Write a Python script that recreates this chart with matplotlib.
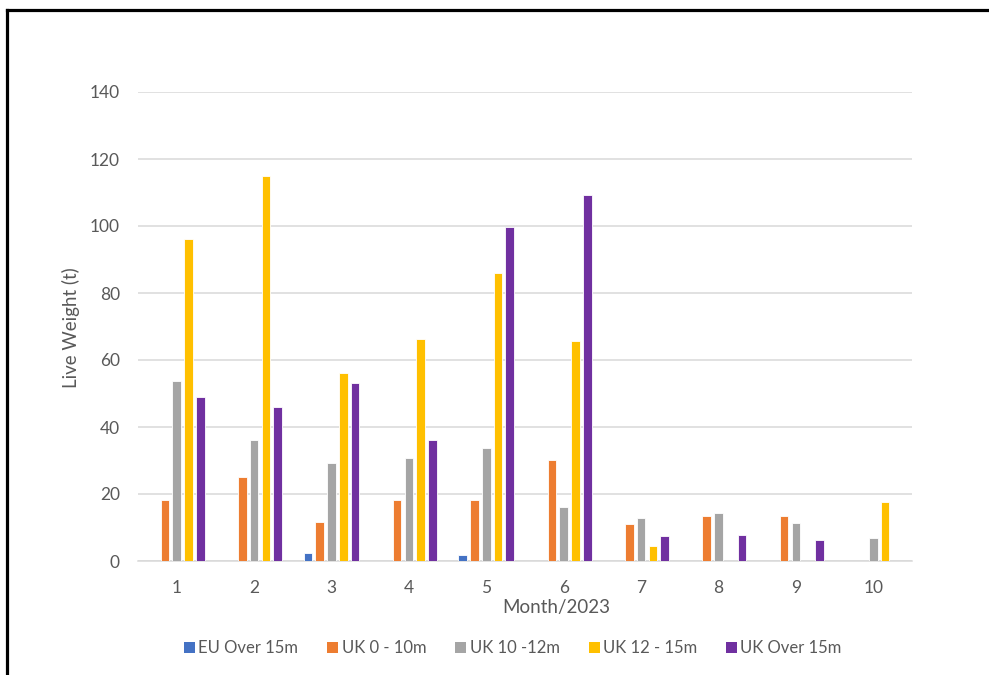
import matplotlib
matplotlib.use("Agg")
import matplotlib.pyplot as plt
from matplotlib.lines import Line2D
from matplotlib.patches import Patch
import numpy as np

plt.rcParams['font.family'] = ['Lato', 'DejaVu Sans']

months = ["1", "2", "3", "4", "5", "6", "7", "8", "9", "10"]
series_names = ["EU Over 15m", "UK 0 - 10m", "UK 10 -12m", "UK 12 - 15m", "UK Over 15m"]
eu_over_15 = [0, 0, 2.4, 0, 1.8, 0, 0, 0, 0, 0]
uk_0_10 = [18.2, 25.2, 11.6, 18.2, 18.2, 30.2, 11.0, 13.5, 13.5, 0]
uk_10_12 = [53.6, 36.0, 29.3, 30.8, 33.8, 16.0, 12.9, 14.4, 11.4, 6.9]
uk_12_15 = [96.0, 114.8, 56.0, 66.2, 86.0, 65.6, 4.5, 0, 0, 17.5]
uk_over_15 = [49.0, 46.0, 53.0, 36.0, 99.6, 109.2, 7.5, 7.9, 6.4, 0]
series = [eu_over_15, uk_0_10, uk_10_12, uk_12_15, uk_over_15]
colors = ["#4472C4", "#ED7D31", "#A5A5A5", "#FFC000", "#7030A0"]

W, H = 989, 675
fig = plt.figure(figsize=(W / 100, H / 100), dpi=100)
ax = fig.add_axes([138 / W, 1 - 561 / H, (912 - 138) / W, (561 - 92) / H])

x = np.arange(1, len(months) + 1)
pitch = 0.152
width = 0.112
for i, (vals, col) in enumerate(zip(series, colors)):
    offs = (i - 2) * pitch
    ax.bar(x + offs, vals, width=width, color=col, edgecolor="white",
           linewidth=0.6, zorder=3)

ax.set_xlim(0.5, len(months) + 0.5)
ax.set_ylim(0, 140)
ax.set_yticks(np.arange(0, 141, 20))
ax.set_xticks(x)
ax.set_xticklabels(months)
ax.yaxis.grid(True, color="#D9D9D9", linewidth=1.1, zorder=0)
ax.set_axisbelow(True)
for s in ["top", "right", "left"]:
    ax.spines[s].set_visible(False)
ax.spines["bottom"].set_color("#D9D9D9")
ax.spines["bottom"].set_linewidth(1.1)
ax.tick_params(axis="both", length=0, labelsize=12.5, colors="#595959")
ax.tick_params(axis="x", pad=14)
ax.tick_params(axis="y", pad=13)

fig.text(556 / W, 1 - 607 / H, "Month/2023", ha="center", va="center",
         fontsize=13.5, color="#595959")
fig.text(71 / W, 1 - 328 / H, "Live Weight (t)", ha="center", va="center",
         rotation=90, fontsize=13.5, color="#595959")

handles = [Patch(facecolor=c, edgecolor="none") for c in colors]
fig.legend(handles, series_names, loc="center", bbox_to_anchor=(513 / W, 1 - 648 / H),
           ncol=5, frameon=False, fontsize=12, labelcolor="#595959",
           handlelength=0.65, handleheight=0.65, handletextpad=0.2,
           columnspacing=1.75)

# frame lines along the left and top edges
fig.add_artist(Line2D([6.5 / W, 6.5 / W], [0, 1 - 9.5 / H], transform=fig.transFigure,
                      color="black", linewidth=2.3, solid_capstyle="projecting"))
fig.add_artist(Line2D([6.5 / W, 1], [1 - 9.5 / H, 1 - 9.5 / H], transform=fig.transFigure,
                      color="black", linewidth=2.3, solid_capstyle="projecting"))

fig.savefig("out.png", dpi=100, facecolor="white")
